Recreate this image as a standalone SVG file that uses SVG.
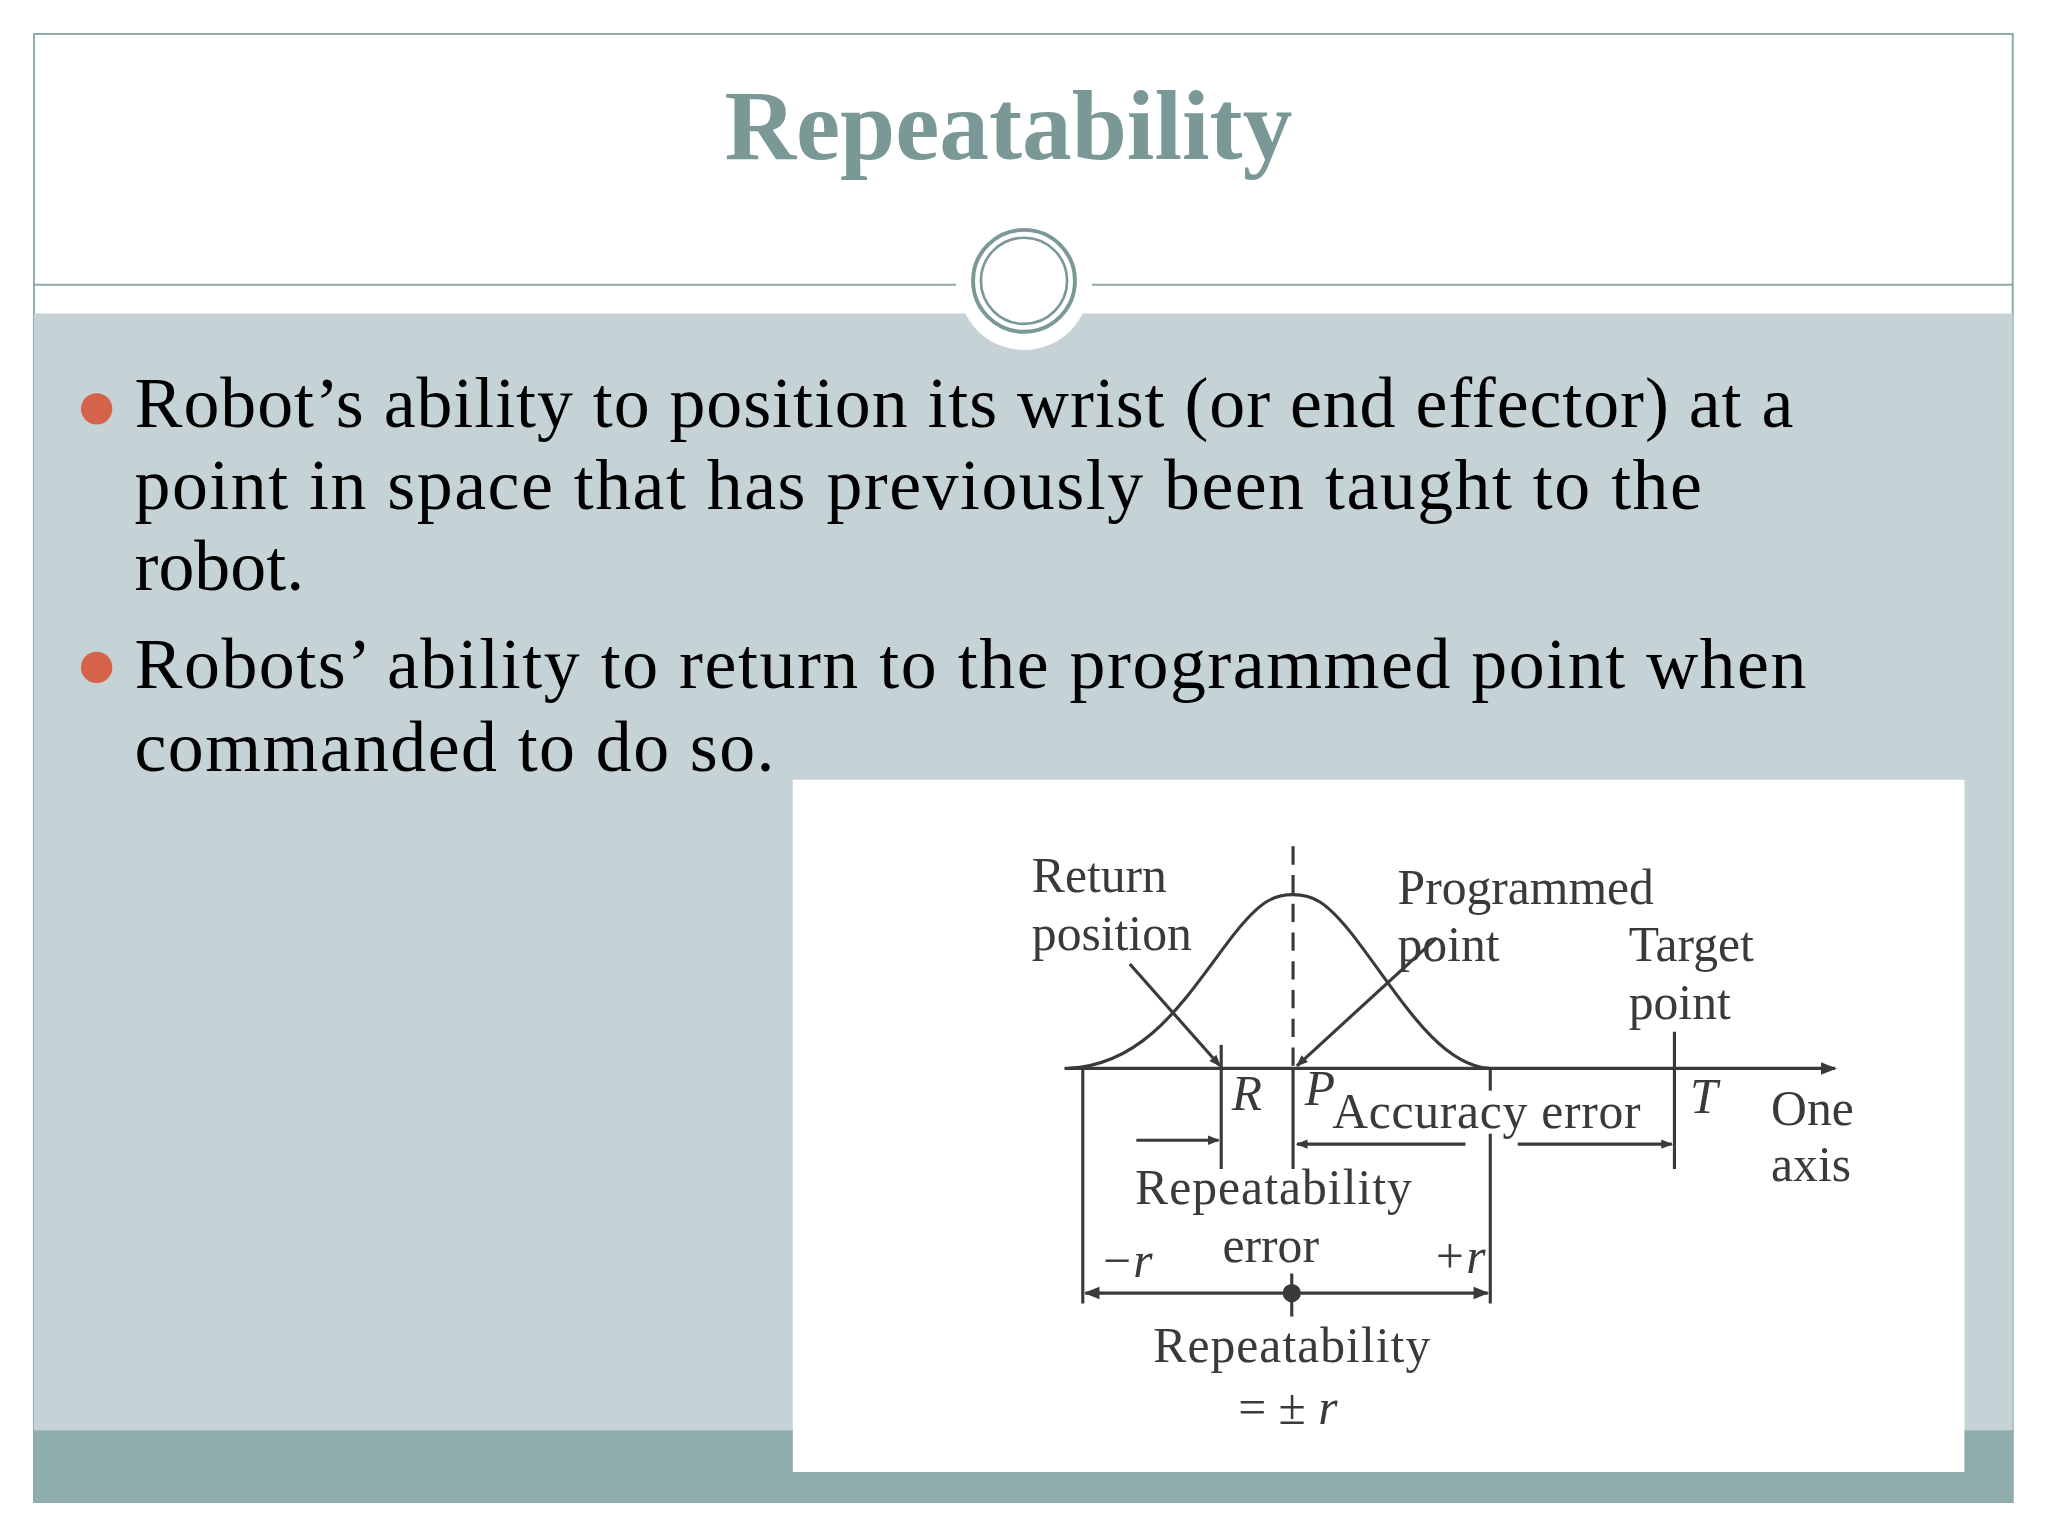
<svg xmlns="http://www.w3.org/2000/svg" width="2048" height="1536" viewBox="0 0 2048 1536">
<defs>
<style>
.b{font-family:"Liberation Serif","DejaVu Serif",serif;font-size:55px;fill:#000}
.d{font-family:"Liberation Serif",serif;font-size:38px;fill:#3a3a3a}
.i{font-style:italic}
.ln{stroke:#3a3a3a;stroke-width:2.4;fill:none}
</style>
<marker id="ah" viewBox="0 0 10 10" refX="9" refY="5" markerWidth="12" markerHeight="9" markerUnits="userSpaceOnUse" orient="auto-start-reverse"><path d="M0,1 L10,5 L0,9 Z" fill="#3a3a3a"/></marker>
<marker id="ahb" viewBox="0 0 10 10" refX="9" refY="5" markerWidth="24" markerHeight="12" markerUnits="userSpaceOnUse" orient="auto-start-reverse"><path d="M0,1 L10,5 L0,9 Z" fill="#3a3a3a"/></marker>
</defs>
<rect width="2048" height="1536" fill="#fff"/>
<g transform="scale(1.30612)">
<g id="slide">
<rect x="26" y="26" width="1515" height="1124" fill="#fff" stroke="#8fa9a8" stroke-width="1.5"/>
<rect x="26" y="240" width="1515" height="855" fill="#c5d3d6"/>
<rect x="26" y="1095" width="1515" height="55" fill="#8fadac"/>
<line x1="26" y1="218" x2="732" y2="218" stroke="#8fa9a8" stroke-width="1.5"/>
<line x1="836" y1="218" x2="1541" y2="218" stroke="#8fa9a8" stroke-width="1.5"/>
<circle cx="784" cy="218" r="50" fill="#fff"/>
<circle cx="784" cy="215" r="39" fill="none" stroke="#7a9896" stroke-width="3"/>
<circle cx="784" cy="215" r="33" fill="none" stroke="#7a9896" stroke-width="2"/>
<text x="772" y="122" text-anchor="middle" font-family="Liberation Serif,serif" font-weight="bold" font-size="76" fill="#7a9896">Repeatability</text>
</g>
<g id="bullets">
<circle cx="74" cy="313" r="12" fill="#d4634a"/>
<circle cx="74" cy="511" r="12" fill="#d4634a"/>
<text class="b" x="103" y="327" textLength="1270">Robot’s ability to position its wrist (or end effector) at a</text>
<text class="b" x="103" y="390" textLength="1200">point in space that has previously been taught to the</text>
<text class="b" x="103" y="452">robot.</text>
<text class="b" x="103" y="527" textLength="1280">Robots’ ability to return to the programmed point when</text>
<text class="b" x="103" y="590" textLength="490">commanded to do so.</text>
</g>
<g id="figure">
<rect x="607" y="597" width="897" height="530" fill="#fff"/>
<text class="d" x="790" y="683">Return</text>
<text class="d" x="790" y="727">position</text>
<text class="d" x="1070" y="692">Programmed</text>
<text class="d" x="1070" y="736">point</text>
<text class="d" x="1247" y="736">Target</text>
<text class="d" x="1247" y="780">point</text>
<text class="d i" x="943" y="850">R</text>
<text class="d i" x="999" y="846">P</text>
<text class="d" x="1020" y="864" textLength="236">Accuracy error</text>
<text class="d i" x="1294" y="852">T</text>
<text class="d" x="1356" y="861">One</text>
<text class="d" x="1356" y="904">axis</text>
<text class="d" x="869" y="922" textLength="212">Repeatability</text>
<text class="d" x="936" y="966">error</text>
<text class="d i" x="842" y="978">−r</text>
<text class="d i" x="1097" y="975">+r</text>
<text class="d" x="883" y="1043" textLength="212">Repeatability</text>
<text class="d" x="948" y="1090">= ± <tspan class="i">r</tspan></text>
</g>
<g id="connectors">
<line class="ln" x1="815" y1="818" x2="1405" y2="818" marker-end="url(#ahb)"/>
<path class="ln" stroke-width="3.2" d="M818,818 C880,815 910,760 945,715 C965,690 975,685 990,685 C1005,685 1015,690 1035,715 C1070,760 1100,815 1140,818"/>
<line class="ln" x1="990" y1="648" x2="990" y2="818" stroke-dasharray="14,8"/>
<line class="ln" x1="990" y1="818" x2="990" y2="895"/>
<line class="ln" x1="935" y1="800" x2="935" y2="895"/>
<line class="ln" x1="1282" y1="790" x2="1282" y2="895"/>
<line class="ln" x1="829" y1="818" x2="829" y2="998"/>
<line class="ln" x1="1141" y1="818" x2="1141" y2="835"/>
<line class="ln" x1="1141" y1="868" x2="1141" y2="998"/>
<line class="ln" x1="870" y1="873" x2="933" y2="873" marker-end="url(#ah)"/>
<line class="ln" x1="1122" y1="876" x2="993" y2="876" marker-end="url(#ah)"/>
<line class="ln" x1="1162" y1="876" x2="1280" y2="876" marker-end="url(#ah)"/>
<line class="ln" x1="865" y1="738" x2="934" y2="816" marker-end="url(#ah)"/>
<line class="ln" x1="1100" y1="718" x2="993" y2="816" marker-end="url(#ah)"/>
<line class="ln" x1="831" y1="990" x2="1139" y2="990" marker-start="url(#ahb)" marker-end="url(#ahb)"/>
<line class="ln" x1="989" y1="975" x2="989" y2="1008"/>
<circle cx="989" cy="990" r="7" fill="#3a3a3a"/>
</g>
</g>
</svg>
